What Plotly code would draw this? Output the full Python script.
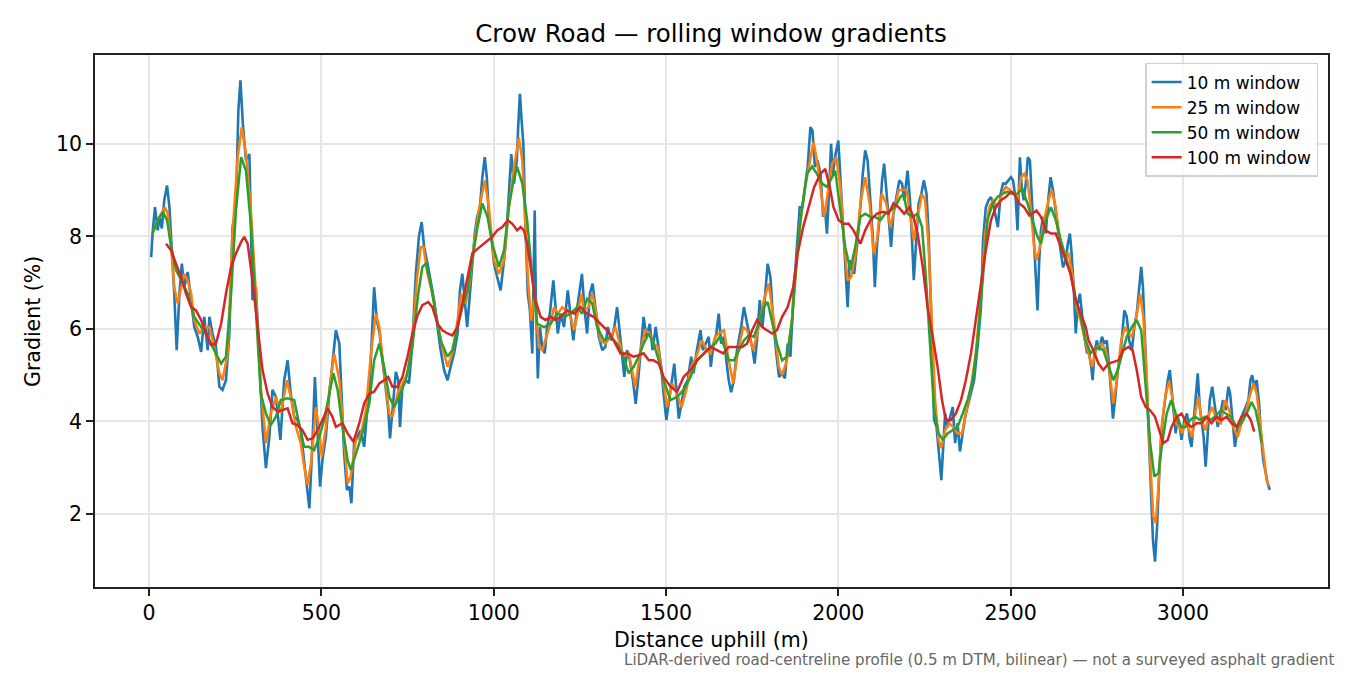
import plotly.graph_objects as go

# ---- data: (distance m, gradient %) ----
w10 = [(6,7.55),(10,8.06),(17,8.63),(25,8.13),(30,8.42),(37,8.17),(44,8.78),(52,9.1),(59,8.63),(66,7.77),(73,6.76),(80,5.54),(88,6.76),(95,7.41),(102,6.9),(112,7.23),(120,6.76),(131,6.04),(141,5.83),(151,5.5),(160,6.26),(170,5.54),(175,6.26),(184,5.9),(194,5.61),(204,4.75),(213,4.68),(223,4.89),(233,5.9),(242,8.2),(252,8.63),(259,10.72),(265,11.37),(272,10.43),(281,9.64),(291,9.78),(300,6.62),(310,6.9),(320,5.32),(329,3.88),(339,2.99),(349,3.67),(358,4.68),(368,4.53),(381,3.6),(392,4.89),(402,5.32),(411,4.6),(421,4.1),(431,4.03),(440,3.81),(450,3.17),(460,2.45),(465,2.12),(474,3.53),(481,4.96),(489,3.74),(496,2.59),(503,3.17),(513,3.67),(523,4.6),(532,5.32),(542,5.97),(552,5.68),
       (558,4.6),(566,3.3),(574,2.52),(581,2.59),(587,2.23),(595,3.53),(605,3.67),(614,3.81),(624,3.45),(632,4.17),(639,4.6),(645,5.47),(653,6.9),(661,6.18),(669,5.9),(677,5.32),(687,4.6),(694,4.24),(699,3.63),(706,4.24),(716,5.07),(723,4.89),(728,3.88),(735,4.75),(745,4.89),(754,4.82),(764,5.68),(774,7.19),(783,8.0),(791,8.31),(798,7.77),(808,7.41),(817,7.05),(827,6.62),(837,6.04),(846,5.54),(856,5.11),(866,4.89),(875,5.18),(885,5.47),(895,5.9),(902,6.83),(909,7.19),(916,6.55),(923,6.04),(931,6.76),(938,7.33),(945,8.06),(952,8.42),(960,8.63),(967,9.28),(974,9.71),(980,9.28),(986,8.42),(993,8.0),(1001,7.41),(1010,7.12),(1020,6.83),(1030,7.48),(1037,8.06),(1044,8.92),(1051,9.78),(1059,9.14),(1067,9.64),(1071,10.36),(1076,11.08),(1081,10.5),
       (1086,10.0),(1092,8.2),(1099,6.76),(1105,6.4),(1112,5.47),(1119,8.56),(1122,6.76),(1128,4.93),(1134,6.04),(1141,5.61),(1148,5.47),(1155,6.04),(1163,6.33),(1173,7.05),(1179,6.47),(1186,5.9),(1194,6.33),(1204,6.04),(1215,6.83),(1223,6.33),(1231,5.75),(1240,6.33),(1248,6.76),(1256,7.19),(1263,6.47),(1271,5.9),(1279,6.76),(1287,6.98),(1295,6.47),(1305,5.83),(1315,5.54),(1324,5.61),(1331,6.04),(1341,5.75),(1350,6.04),(1358,6.47),(1366,5.9),(1373,5.32),(1379,4.96),(1387,5.54),(1395,5.32),(1404,4.89),(1412,4.38),(1420,4.96),(1428,5.68),(1435,6.26),(1443,5.83),(1453,6.11),(1461,5.54),(1470,6.04),(1478,5.61),(1486,5.18),(1493,4.6),(1501,4.03),(1509,4.46),(1517,4.89),(1524,5.25),(1530,4.68),(1537,4.06),(1545,4.39),(1553,4.75),(1563,4.89),(1573,5.4),(1580,5.04),(1588,5.47),(1600,5.97),(1607,5.54),(1615,5.68),(1624,5.83),(1630,5.18),(1638,5.68),
       (1646,5.9),(1653,6.33),(1660,5.68),(1668,5.83),(1675,5.32),(1682,4.89),(1689,4.63),(1697,4.89),(1706,5.54),(1718,6.04),(1726,6.47),(1733,6.18),(1741,5.9),(1750,5.61),(1757,5.25),(1764,5.75),(1772,6.62),(1780,6.04),(1788,6.76),(1795,7.41),(1803,7.12),(1811,6.18),(1820,5.47),(1828,4.96),(1837,5.04),(1845,4.93),(1853,5.68),(1861,5.4),(1869,6.62),(1878,7.63),(1888,8.63),(1896,8.63),(1903,9.07),(1911,9.5),(1919,10.36),(1925,10.29),(1932,9.5),(1940,9.64),(1948,9.35),(1956,8.42),(1961,8.63),(1967,8.06),(1973,8.92),(1979,10.0),(1984,9.35),(1992,9.78),(2000,10.07),(2008,9.07),(2015,8.2),(2021,7.19),(2027,6.47),(2033,7.48),(2040,7.33),(2046,7.19),(2054,7.77),(2062,8.42),(2071,9.35),(2078,9.86),(2085,9.64),(2093,8.7),(2100,8.0),(2106,6.9),(2112,7.77),(2120,8.42),(2127,9.21),(2133,9.57),(2141,8.78),(2149,8.06),(2153,7.77),(2160,8.49),(2168,8.85),
       (2177,9.21),(2185,9.14),(2191,8.78),(2201,9.42),(2208,8.78),(2214,7.91),(2219,7.05),(2225,7.77),(2233,8.71),(2241,8.92),(2248,9.21),(2256,8.92),(2262,8.06),(2269,6.4),(2274,4.96),(2278,4.03),(2285,3.88),(2293,3.3),(2299,2.73),(2305,3.53),(2310,4.17),(2317,3.88),(2324,4.1),(2332,4.31),(2339,3.53),(2346,3.96),(2353,3.35),(2361,3.81),(2368,4.1),(2375,4.31),(2385,4.6),(2394,4.89),(2404,5.61),(2414,6.47),(2420,7.91),(2428,8.63),(2436,8.78),(2443,8.85),(2449,8.71),(2457,8.42),(2463,8.2),(2471,8.92),(2478,9.14),(2486,9.14),(2494,9.21),(2501,9.28),(2507,9.21),(2515,8.78),(2520,8.13),(2527,9.71),(2532,9.07),(2538,8.78),(2544,9.14),(2550,9.71),(2556,9.64),(2561,8.92),(2567,8.06),(2573,6.9),(2578,6.4),(2583,7.48),(2588,8.13),(2594,8.42),(2602,8.06),(2610,8.85),(2616,9.28),(2623,9.0),(2631,8.49),(2639,8.06),(2645,7.7),(2652,7.33),(2660,7.48),(2666,7.84),(2672,8.06),(2677,7.63),(2683,6.9),(2689,5.9),(2695,6.55),(2701,6.76),(2706,6.33),(2714,5.83),(2722,5.47),
       (2726,5.54),(2734,5.18),(2738,4.89),(2743,5.47),(2750,5.75),(2757,5.54),(2765,5.83),(2772,5.68),(2779,5.75),(2786,5.18),(2792,4.6),(2797,4.06),(2803,4.46),(2811,5.11),(2819,5.47),(2825,5.9),(2830,6.4),(2837,6.26),(2844,5.75),(2852,5.54),(2859,6.04),(2866,6.33),(2873,6.9),(2879,7.34),(2884,6.9),(2890,5.75),(2896,4.6),(2902,3.3),(2908,2.16),(2913,1.44),(2919,0.97),(2925,1.73),(2931,2.81),(2937,3.67),(2943,4.17),(2950,4.6),(2956,4.89),(2962,5.11),(2967,4.68),(2973,4.1),(2979,3.74),(2985,4.1),(2991,3.88),(2996,3.6),(3004,4.03),(3012,4.17),(3020,3.6),(3025,3.45),(3031,4.03),(3037,4.46),(3043,5.04),(3049,4.31),(3054,4.03),(3060,3.67),(3066,3.02),(3072,3.88),(3078,4.46),(3085,4.75),(3093,4.31),(3101,3.88),(3109,4.17),(3116,4.46),(3124,4.24),(3132,4.75),(3137,4.6),(3143,4.03),(3151,3.45),(3159,3.88),(3166,4.03),(3174,4.17),(3182,4.31),(3190,4.46),(3196,4.89),(3201,5.0),(3207,4.75),(3214,4.89),(3221,4.39),(3226,3.74),(3233,3.17),(3240,2.88),(3246,2.66),(3252,2.52)]

w25 = [(10,8.06),(25,8.35),(46,8.63),(54,8.49),(64,7.77),(73,6.9),(83,6.55),(93,6.9),(102,7.19),(112,7.05),(122,6.76),(131,6.19),(146,5.9),(160,6.04),(175,6.04),(189,5.61),(204,5.04),(213,4.89),(228,5.47),(242,8.06),(257,9.71),(269,10.36),(281,9.78),(296,8.49),(310,6.76),(324,4.75),(339,3.53),(353,4.17),(368,4.53),(382,4.17),(400,4.89),(411,4.53),(426,3.88),(440,3.53),(450,3.02),(460,2.63),(471,3.17),(484,4.31),(492,3.88),(501,3.24),(513,3.88),(523,4.68),(537,5.47),
       (552,4.89),(566,3.53),(576,2.66),(585,2.81),(600,3.6),(614,3.67),(629,4.24),(643,5.4),(658,6.33),(668,6.04),(682,5.04),(697,4.17),(706,4.1),(721,4.6),(735,4.82),(750,5.04),(764,5.75),(777,7.05),(788,7.77),(796,7.77),(808,7.19),(822,6.76),(837,6.11),(851,5.61),(866,5.18),(880,5.47),(895,6.19),(906,6.76),(919,6.55),(931,7.05),(943,7.84),(957,8.56),(974,9.21),(986,8.63),(1001,7.48),(1015,7.19),(1030,7.48),(1044,8.63),(1059,9.5),(1073,10.14),(1083,9.64),
       (1090,8.56),(1099,7.12),(1109,6.18),(1119,6.76),(1131,5.61),(1141,5.54),(1153,5.83),(1165,6.11),(1175,6.47),(1186,6.33),(1199,6.47),(1208,6.4),(1221,6.33),(1233,5.97),(1244,6.33),(1254,6.76),(1263,6.4),(1275,6.47),(1286,6.76),(1298,6.33),(1310,5.75),(1324,5.68),(1339,5.83),(1353,6.04),(1368,5.61),(1379,5.4),(1392,5.47),(1411,4.75),(1426,5.54),(1440,5.97),(1453,5.9),(1464,5.68),(1476,5.61),(1489,5.04),(1503,4.31),(1518,4.82),(1532,4.6),(1545,4.31),(1559,4.68),(1573,5.18),(1588,5.4),(1604,5.75),(1619,5.54),
       (1629,5.47),(1643,5.83),(1653,5.9),(1668,5.97),(1682,5.32),(1695,4.82),(1708,5.47),(1724,6.04),(1735,5.97),(1753,5.54),(1769,6.04),(1784,6.62),(1798,6.98),(1813,6.18),(1827,5.18),(1837,5.0),(1851,5.32),(1866,6.26),(1878,7.34),(1890,8.35),(1904,9.07),(1919,9.64),(1928,10.04),(1938,9.64),(1950,8.92),(1959,8.42),(1969,8.92),(1982,9.57),(1994,9.71),(2006,9.07),(2017,7.84),(2027,7.05),(2037,7.12),(2049,7.55),(2064,8.71),(2078,9.28),(2091,8.71),(2102,7.63),(2112,7.91),(2126,8.92),(2139,8.71),(2151,8.2),(2162,8.56),(2175,9.0),
       (2189,9.0),(2198,9.0),(2208,8.49),(2219,7.91),(2230,8.42),(2243,8.92),(2252,8.78),(2262,7.77),(2272,6.04),(2281,4.46),(2291,3.6),(2299,3.42),(2310,3.81),(2322,3.96),(2333,3.88),(2346,3.74),(2359,3.74),(2370,4.17),(2385,4.75),(2399,5.47),(2414,6.76),(2426,8.06),(2438,8.63),(2449,8.78),(2462,8.63),(2475,8.92),(2486,9.07),(2498,9.0),(2510,8.92),(2520,8.78),(2530,9.28),(2539,9.35),(2549,9.21),(2559,8.56),(2568,7.77),(2575,7.48),(2585,7.77),(2597,8.35),(2610,8.78),(2619,9.0),(2631,8.63),(2643,7.91),(2655,7.63),(2668,7.63),(2679,7.19),(2691,6.47),(2703,6.18),(2716,5.75),(2728,5.4),(2737,5.18),
       (2750,5.61),(2765,5.68),(2776,5.54),(2789,4.96),(2798,4.39),(2808,4.89),(2821,5.75),(2832,6.04),(2842,5.9),(2852,5.83),(2863,6.19),(2876,6.76),(2885,6.26),(2895,4.96),(2905,3.17),(2914,1.94),(2921,1.8),(2929,2.59),(2938,3.88),(2950,4.6),(2960,4.86),(2969,4.53),(2979,3.96),(2989,3.88),(2998,3.74),(3008,4.03),(3018,3.81),(3027,3.67),(3037,4.24),(3045,4.53),(3054,4.03),(3066,3.81),(3076,4.17),(3085,4.31),(3098,4.03),(3110,3.96),(3122,4.46),(3134,4.24),(3146,3.88),(3159,3.67),(3170,3.96),(3182,4.17),(3193,4.53),(3205,4.82),(3214,4.6),(3223,4.03),(3233,3.3),(3243,2.73),(3250,2.6)]

w50 = [(10,8.06),(25,8.35),(40,8.53),(52,8.35),(64,7.77),(78,7.27),(98,6.98),(112,6.76),(131,6.26),(151,6.04),(170,5.83),(189,5.54),(209,5.25),(223,5.4),(238,6.76),(252,8.56),(267,9.71),(281,9.42),(296,8.2),(310,6.4),(324,4.6),(339,4.17),(353,3.92),(368,4.1),(382,4.46),(402,4.5),(421,4.46),(435,3.96),(450,3.45),(464,3.45),(479,3.38),(494,3.67),(508,4.03),(523,4.6),
       (535,5.04),(547,4.68),(561,3.88),(576,3.17),(585,2.95),(600,3.3),(619,3.74),(639,4.39),(653,5.32),(668,5.68),(682,5.18),(697,4.53),(711,4.31),(725,4.53),(745,4.89),(764,5.61),(781,6.76),(793,7.34),(803,7.41),(815,7.05),(832,6.33),(846,5.75),(866,5.4),(880,5.54),(895,6.04),(909,6.47),(924,6.83),(938,7.48),(953,8.2),(967,8.71),(982,8.42),(996,7.84),(1015,7.34),(1030,7.7),(1044,8.63),(1059,9.28),(1068,9.5),(1083,9.14),(1097,8.35),
       (1112,7.12),(1126,6.11),(1146,6.04),(1165,6.11),(1184,6.33),(1204,6.26),(1223,6.33),(1242,6.47),(1257,6.33),(1271,6.65),(1286,6.55),(1300,6.04),(1320,5.75),(1339,5.83),(1358,5.68),(1373,5.47),(1392,5.04),(1406,5.18),(1421,5.4),(1435,5.68),(1450,5.9),(1464,5.68),(1479,5.32),(1493,4.89),(1513,4.46),(1532,4.53),(1551,4.68),(1571,4.96),(1590,5.32),(1609,5.47),
       (1629,5.61),(1643,5.68),(1656,5.83),(1670,5.61),(1682,5.32),(1697,5.32),(1711,5.54),(1726,5.75),(1740,5.86),(1755,5.83),(1769,6.11),(1784,6.47),(1795,6.58),(1808,6.18),(1822,5.68),(1837,5.32),(1851,5.4),(1866,6.18),(1880,7.63),(1895,8.63),(1909,9.35),(1924,9.51),(1938,9.35),(1953,9.14),(1967,9.07),(1982,9.28),(1991,9.42),(2006,8.56),(2020,7.77),(2035,7.27),(2049,7.77),(2064,8.42),(2078,8.49),(2093,8.42),(2107,8.42),(2122,8.35),(2136,8.49),(2151,8.56),(2165,8.63),(2180,8.85),(2189,8.92),
       (2201,8.49),(2216,8.42),(2230,8.49),(2243,8.2),(2254,7.12),(2266,5.68),(2278,4.24),(2291,3.74),(2303,3.6),(2317,3.74),(2332,3.81),(2346,3.88),(2361,4.17),(2375,4.46),(2390,4.89),(2404,5.75),(2419,7.05),(2433,8.35),(2448,8.71),(2462,8.85),(2476,8.92),(2491,8.96),(2505,8.92),(2520,8.92),(2534,9.03),(2549,8.71),(2563,8.35),(2578,7.99),(2588,7.84),(2602,8.35),(2617,8.63),(2631,8.35),(2646,7.91),(2660,7.55),(2674,7.19),(2689,6.62),(2703,6.26),(2718,5.75),(2732,5.47),
       (2740,5.54),(2755,5.61),(2769,5.54),(2784,5.18),(2798,4.89),(2811,5.11),(2823,5.47),(2837,5.83),(2852,6.04),(2866,6.19),(2879,5.97),(2890,4.96),(2905,3.53),(2917,2.81),(2929,2.88),(2940,3.53),(2953,4.17),(2966,4.46),(2979,4.17),(2995,3.88),(3008,3.88),(3021,4.03),(3035,4.1),(3050,4.03),(3064,4.1),(3079,4.03),(3093,4.1),(3110,4.24),(3124,4.17),(3139,4.1),(3156,3.88),(3170,3.96),(3185,4.17),(3199,4.42),(3211,4.24),(3221,3.88),(3228,3.53)]

w100 = [(49,7.84),(64,7.7),(78,7.41),(93,7.12),(107,6.76),(122,6.47),(136,6.4),(151,6.19),(165,5.9),(180,5.65),(194,5.68),(209,6.11),(223,6.76),(238,7.34),(252,7.63),(267,7.88),(276,7.99),(286,7.84),(300,7.05),(315,6.04),(329,5.11),(344,4.6),(358,4.31),(373,4.21),(387,4.24),(402,4.28),(416,3.96),(431,3.92),(445,3.81),(460,3.6),(474,3.63),(489,3.81),(503,4.03),(518,4.28),(532,4.1),
        (542,3.88),(561,3.96),(576,3.74),(593,3.56),(610,3.96),(624,4.39),(639,4.6),(653,4.64),(668,4.82),(682,4.89),(694,4.96),(706,4.75),(721,4.75),(735,4.96),(750,5.4),(764,5.9),(779,6.29),(793,6.51),(810,6.58),(822,6.47),(837,6.11),(851,5.97),(866,5.9),(880,5.86),(895,6.04),(909,6.55),(924,7.12),(938,7.63),(953,7.73),(967,7.81),(982,7.91),(996,7.99),(1010,8.13),(1025,8.2),(1041,8.35),(1054,8.27),(1068,8.13),
        (1078,8.2),(1088,8.13),(1097,7.84),(1107,7.34),(1121,6.62),(1136,6.26),(1150,6.19),(1165,6.26),(1179,6.19),(1194,6.26),(1213,6.4),(1233,6.33),(1252,6.47),(1271,6.33),(1290,6.26),(1310,6.11),(1329,5.97),(1348,5.75),(1368,5.47),(1387,5.47),(1406,5.4),(1421,5.43),(1435,5.47),(1450,5.32),(1464,5.32),(1479,5.25),(1493,4.96),(1513,4.75),(1532,4.64),(1551,4.96),(1571,5.11),(1590,5.32),(1609,5.47),(1629,5.61),
        (1648,5.54),(1666,5.47),(1682,5.61),(1701,5.61),(1721,5.61),(1735,5.68),(1750,5.97),(1764,6.19),(1779,6.04),(1793,5.97),(1808,5.9),(1822,5.97),(1837,6.26),(1853,6.47),(1869,6.9),(1882,7.63),(1898,8.2),(1914,8.63),(1930,9.07),(1948,9.35),(1962,9.46),(1975,9.07),(1986,8.63),(2001,8.35),(2015,8.27),(2030,8.27),(2044,8.13),(2064,7.84),(2078,8.13),(2093,8.35),(2112,8.49),(2131,8.53),(2146,8.49),(2160,8.71),(2175,8.63),
        (2191,8.49),(2206,8.63),(2218,8.42),(2230,8.06),(2245,7.34),(2259,6.47),(2274,5.83),(2288,5.18),(2301,4.46),(2312,4.03),(2327,4.03),(2341,4.17),(2356,4.46),(2370,4.89),(2385,5.47),(2399,6.19),(2414,6.9),(2428,7.7),(2443,8.35),(2457,8.63),(2472,8.78),(2486,8.85),(2501,8.96),(2510,8.92),(2525,8.71),(2539,8.63),(2554,8.45),(2563,8.49),(2575,8.56),(2588,8.42),(2602,8.13),(2617,8.06),(2631,8.06),(2646,7.77),(2660,7.48),(2674,7.19),(2689,6.62),(2703,6.33),(2718,6.04),
        (2726,5.75),(2740,5.54),(2755,5.25),(2769,5.11),(2784,5.25),(2798,5.29),(2813,5.32),(2827,5.54),(2842,5.61),(2854,5.54),(2866,5.11),(2879,4.53),(2892,4.31),(2905,4.24),(2919,4.1),(2931,3.81),(2943,3.53),(2956,3.6),(2967,3.88),(2982,4.1),(2996,4.17),(3011,3.96),(3025,3.88),(3040,3.96),(3054,3.96),(3069,4.1),(3083,3.96),(3098,4.1),(3112,4.03),(3127,4.1),(3141,3.96),(3156,3.88),(3170,4.1),(3185,4.17),(3197,4.03),(3207,3.78)]

series_names = ["10 m window", "25 m window", "50 m window", "100 m window"]
series_data = [w10, w25, w50, w100]
colors = ["#1f77b4", "#ff7f0e", "#2ca02c", "#d62728"]
widths = [2.6, 2.5, 2.5, 2.5]

x_ticks = [0, 500, 1000, 1500, 2000, 2500, 3000]
y_ticks = [2, 4, 6, 8, 10]

FONT = "DejaVu Sans"
OFF = 8  # page body margin in the browser

fig = go.Figure()
for name, data, col, lw in zip(series_names, series_data, colors, widths):
    fig.add_trace(go.Scatter(
        x=[p[0] for p in data], y=[p[1] for p in data],
        mode="lines", name=name,
        line=dict(color=col, width=lw),
    ))

axis_common = dict(
    showline=True, linecolor="#222222", linewidth=1.6, mirror=True,
    ticks="outside", ticklen=7, tickcolor="#222222", tickwidth=1.6,
    showgrid=True, gridcolor="#e6e6e6", gridwidth=1.5,
    zeroline=False, tickfont=dict(family=FONT, size=20.5, color="black"),
)

fig.update_layout(
    width=1350, height=675,
    paper_bgcolor="white", plot_bgcolor="white",
    margin=dict(l=95 - OFF, r=22 + OFF, t=55 - OFF, b=88 + OFF),
    font=dict(family=FONT, color="black"),
    title=dict(text="Crow Road — rolling window gradients", x=(711 - OFF) / 1350, xanchor="center",
               y=1 - (33 - OFF) / 675, yanchor="middle", font=dict(family=FONT, size=24.5, color="black")),
    xaxis=dict(range=[-157, 3421], tickvals=x_ticks, **axis_common),
    yaxis=dict(range=[0.42, 11.92], tickvals=y_ticks, **axis_common),
    showlegend=True,
    legend=dict(x=0.992, y=0.985, xanchor="right", yanchor="top",
                bgcolor="rgba(255,255,255,0.8)", bordercolor="#d0d0d0", borderwidth=1.5,
                font=dict(family=FONT, size=17, color="black"), tracegroupgap=0,
                itemwidth=30),
    annotations=[
        dict(text="Distance uphill (m)", xref="paper", yref="paper", x=0.5, y=-0.0996,
             xanchor="center", yanchor="middle", showarrow=False,
             font=dict(family=FONT, size=20.5, color="black")),
        dict(text="Gradient (%)", xref="paper", yref="paper", x=-0.0503, y=0.5,
             xanchor="center", yanchor="middle", textangle=-90, showarrow=False,
             font=dict(family=FONT, size=20.5, color="black")),
        dict(text="LiDAR-derived road-centreline profile (0.5 m DTM, bilinear) — not a surveyed asphalt gradient",
             xref="paper", yref="paper", x=1.0065, y=-0.137, xanchor="right", yanchor="middle",
             showarrow=False, font=dict(family=FONT, size=15.1, color="#666666")),
    ],
)

fig.write_html("out.html")
